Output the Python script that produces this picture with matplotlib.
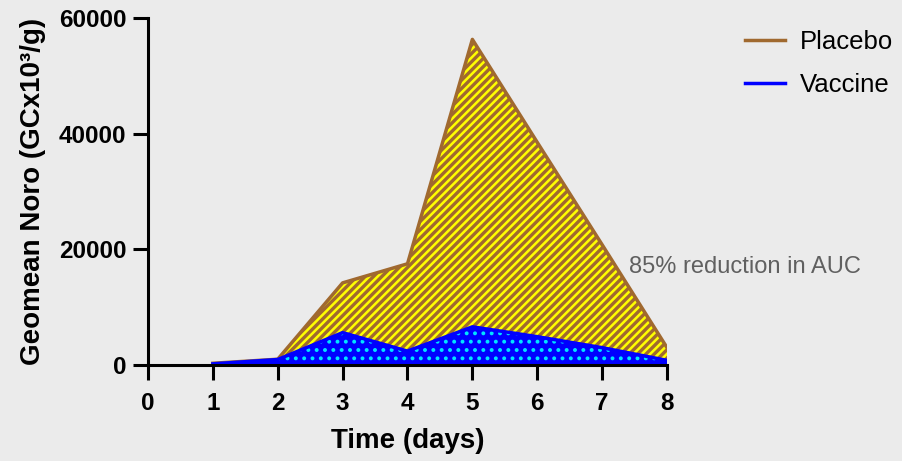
import numpy as np
from matplotlib import pyplot as plt

plt.rcParams['font.family'] = ['Liberation Sans', 'DejaVu Sans']

days = [1, 2, 3, 4, 5, 6, 7, 8]
placebo = [300, 1000, 14200, 17500, 56300, 38500, 20800, 3000]
vaccine = [200, 950, 5600, 2400, 6600, 4900, 3000, 800]

x_ticks = [0, 1, 2, 3, 4, 5, 6, 7, 8]
y_ticks = [0, 20000, 40000, 60000]

BG = '#ebebeb'
BROWN = '#a0692f'
YELLOW = '#ffff00'
BLUE = '#0000ff'
CYAN = '#00e5ff'

fig = plt.figure(figsize=(9.03, 4.61), dpi=100, facecolor=BG)
ax = fig.add_axes([148 / 903, 1 - 365 / 461, (667 - 148) / 903, (365 - 18) / 461])
ax.set_facecolor('none')

# placebo area: yellow with brown stripes
with plt.rc_context({'hatch.linewidth': 2.4}):
    ax.fill_between(days, placebo, 0, facecolor=YELLOW, edgecolor=BROWN,
                    hatch='////', linewidth=0, zorder=2)
ax.plot(days, placebo, color=BROWN, lw=2.5, zorder=3, label='Placebo')

# vaccine area: blue with cyan dots
with plt.rc_context({'hatch.linewidth': 1.6}):
    ax.fill_between(days, vaccine, 0, facecolor=BLUE, edgecolor=CYAN,
                    hatch='..', linewidth=0, zorder=4)
ax.plot(days, vaccine, color=BLUE, lw=2.5, zorder=5, label='Vaccine')

ax.set_xlim(0, 8)
ax.set_ylim(0, 60000)
ax.set_xticks(x_ticks)
ax.set_yticks(y_ticks)
ax.set_xticklabels([str(d) for d in x_ticks], fontsize=17.5, fontweight='bold')
ax.set_yticklabels([str(v) for v in y_ticks], fontsize=17.5, fontweight='bold')

for side in ['top', 'right']:
    ax.spines[side].set_visible(False)
for side in ['left', 'bottom']:
    ax.spines[side].set_linewidth(2.2)
    ax.spines[side].set_zorder(6)
ax.tick_params(axis='both', direction='out', length=10.5, width=2.2)
ax.tick_params(axis='x', pad=9)
ax.tick_params(axis='y', pad=5)

ax.set_xlabel('Time (days)', fontsize=20, fontweight='bold', labelpad=9)
ax.set_ylabel('Geomean Noro (GCx10³/g)', fontsize=20, fontweight='bold', labelpad=9)

fig.text(629 / 903, 1 - 267 / 461, '85% reduction in AUC', fontsize=17,
         color='#606060', ha='left', va='center')

fig.legend(loc='upper left', bbox_to_anchor=(745 / 903, 0.935), frameon=False,
           borderpad=0, borderaxespad=0, fontsize=18.5, handlelength=1.56,
           handletextpad=0.58, labelspacing=0.75)

fig.savefig('out.png', dpi=100, facecolor=BG)
